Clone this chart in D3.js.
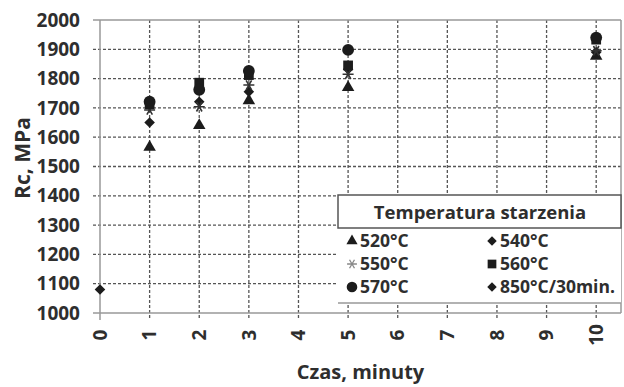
<!DOCTYPE html>
<html>
<head>
<meta charset="utf-8">
<script src="https://cdn.jsdelivr.net/npm/d3@7"></script>
<style>
  body { margin: 0; background: #fff; }
  text { font-family: "Open Sans", sans-serif; font-weight: 700; fill: #2e2e2e; }
</style>
</head>
<body>
<div id="chart"></div>
<script>
"use strict";

// data
const times = [0, 1, 2, 3, 5, 10];
const xTicks = [0, 1, 2, 3, 4, 5, 6, 7, 8, 9, 10];
const yTicks = [1000, 1100, 1200, 1300, 1400, 1500, 1600, 1700, 1800, 1900, 2000];
const s520 = [null, 1566, 1640, 1725, 1770, 1877];
const s540 = [null, 1650, 1721, 1755, 1832, 1890];
const s550 = [null, 1693, 1704, 1778, 1815, 1895];
const s560 = [null, 1712, 1786, 1812, 1845, 1933];
const s570 = [null, 1721, 1762, 1826, 1898, 1940];
const s850 = [1080, null, null, null, null, null];
const legendLabels = ["520°C", "540°C", "550°C", "560°C", "570°C", "850°C/30min."];

const width = 624, height = 387;
const margin = {top: 20, right: 3, bottom: 74, left: 100};
const w = width - margin.left - margin.right;
const h = height - margin.top - margin.bottom;

const x = d3.scaleLinear().domain([0, 10.5]).range([0, w]);
const y = d3.scaleLinear().domain([1000, 2000]).range([h, 0]);

const svg = d3.select("#chart").append("svg")
    .attr("width", width)
    .attr("height", height);

const g = svg.append("g")
    .attr("transform", "translate(" + margin.left + "," + margin.top + ")");

// horizontal grid
g.append("g")
    .selectAll("line")
    .data(yTicks.filter(d => d > 1000 && d < 2000))
    .join("line")
    .attr("x1", -7).attr("x2", w)
    .attr("y1", d => y(d)).attr("y2", d => y(d))
    .attr("stroke", "#555").attr("stroke-width", 1.3)
    .attr("stroke-dasharray", "3,2");

// vertical grid
g.append("g")
    .selectAll("line")
    .data(xTicks.filter(d => d > 0))
    .join("line")
    .attr("x1", d => x(d)).attr("x2", d => x(d))
    .attr("y1", 0).attr("y2", h + 7)
    .attr("stroke", "#555").attr("stroke-width", 1.3)
    .attr("stroke-dasharray", "3,2");

// frame
g.append("line").attr("x1", -7).attr("x2", w).attr("y1", 0).attr("y2", 0)
    .attr("stroke", "#999").attr("stroke-width", 1.5);
g.append("line").attr("x1", -7).attr("x2", w).attr("y1", h).attr("y2", h)
    .attr("stroke", "#999").attr("stroke-width", 1.5);
g.append("line").attr("x1", 0).attr("x2", 0).attr("y1", 0).attr("y2", h + 7)
    .attr("stroke", "#999").attr("stroke-width", 1.5);
g.append("line").attr("x1", w).attr("x2", w).attr("y1", 0).attr("y2", h)
    .attr("stroke", "#999").attr("stroke-width", 1.5);

// y tick labels
g.append("g")
    .selectAll("text")
    .data(yTicks)
    .join("text")
    .attr("x", -20)
    .attr("y", d => y(d))
    .attr("dy", "0.35em")
    .attr("text-anchor", "end")
    .style("font-size", "19px")
    .text(d => d);

// x tick labels, rotated
g.append("g")
    .selectAll("text")
    .data(xTicks)
    .join("text")
    .attr("text-anchor", "middle")
    .attr("dy", "0.35em")
    .style("font-size", "19px")
    .attr("transform", d => "translate(" + x(d) + "," + (h + 22) + ")rotate(-90)")
    .text(d => d);

// axis titles
svg.append("text")
    .attr("text-anchor", "middle")
    .style("font-size", "21px")
    .attr("transform", "translate(23," + 158 + ")rotate(-90)")
    .attr("dy", "0.35em")
    .text("Rc, MPa");

svg.append("text")
    .attr("x", margin.left + w / 2)
    .attr("y", 379)
    .attr("text-anchor", "middle")
    .style("font-size", "20px")
    .text("Czas, minuty");

// marker shapes
const ink = "#1c1c1c";
const shapes = [
    {sym: d3.symbolTriangle, size: 68, rot: 0, fill: ink, stroke: "none"},
    {sym: d3.symbolSquare, size: 56, rot: 45, fill: ink, stroke: "none"},
    {sym: d3.symbolAsterisk, size: 85, rot: 90, fill: "none", stroke: "#333"},
    {sym: d3.symbolSquare, size: 95, rot: 0, fill: ink, stroke: "none"},
    {sym: d3.symbolCircle, size: 110, rot: 0, fill: ink, stroke: "none"},
    {sym: d3.symbolSquare, size: 56, rot: 45, fill: ink, stroke: "none"}
];
const series = [s520, s540, s550, s560, s570, s850];

// legend background (drawn before points, covers grid)
const lg = svg.append("g");
lg.append("rect")
    .attr("x", 338).attr("y", 195)
    .attr("width", 283).attr("height", 108)
    .attr("fill", "#fff");
lg.append("line")
    .attr("x1", 338).attr("x2", 621).attr("y1", 303).attr("y2", 303)
    .attr("stroke", "#999").attr("stroke-width", 1.5);
lg.append("rect")
    .attr("x", 338).attr("y", 195)
    .attr("width", 283).attr("height", 33)
    .attr("fill", "#fff")
    .attr("stroke", "#555").attr("stroke-width", 1.5);
lg.append("text")
    .attr("x", 480).attr("y", 219)
    .attr("text-anchor", "middle")
    .style("font-size", "18.5px")
    .text("Temperatura starzenia");

const legendPos = [[352, 241], [492, 241], [352, 264], [492, 264], [352, 287], [492, 287]];
legendLabels.forEach((lab, i) => {
    const s = shapes[i];
    const [lx, ly] = legendPos[i];
    lg.append("path")
        .attr("d", d3.symbol().type(s.sym).size(s.size * 0.8)())
        .attr("transform", "translate(" + lx + "," + ly + ")rotate(" + s.rot + ")")
        .attr("fill", s.fill)
        .attr("stroke", i === 2 ? "#888" : s.stroke)
        .attr("stroke-width", 1.3);
    lg.append("text")
        .attr("x", lx + 8).attr("y", ly)
        .attr("dy", "0.35em")
        .style("font-size", "17.5px")
        .text(lab);
});

// points
series.forEach((vals, i) => {
    const s = shapes[i];
    const pts = times.map((t, j) => ({t: t, v: vals[j]})).filter(d => d.v != null);
    g.append("g")
        .selectAll("path")
        .data(pts)
        .join("path")
        .attr("d", d3.symbol().type(s.sym).size(s.size))
        .attr("transform", d => "translate(" + x(d.t) + "," + y(d.v) + ")rotate(" + s.rot + ")")
        .attr("fill", s.fill)
        .attr("stroke", s.stroke)
        .attr("stroke-width", 1.6);
});
</script>
</body>
</html>
